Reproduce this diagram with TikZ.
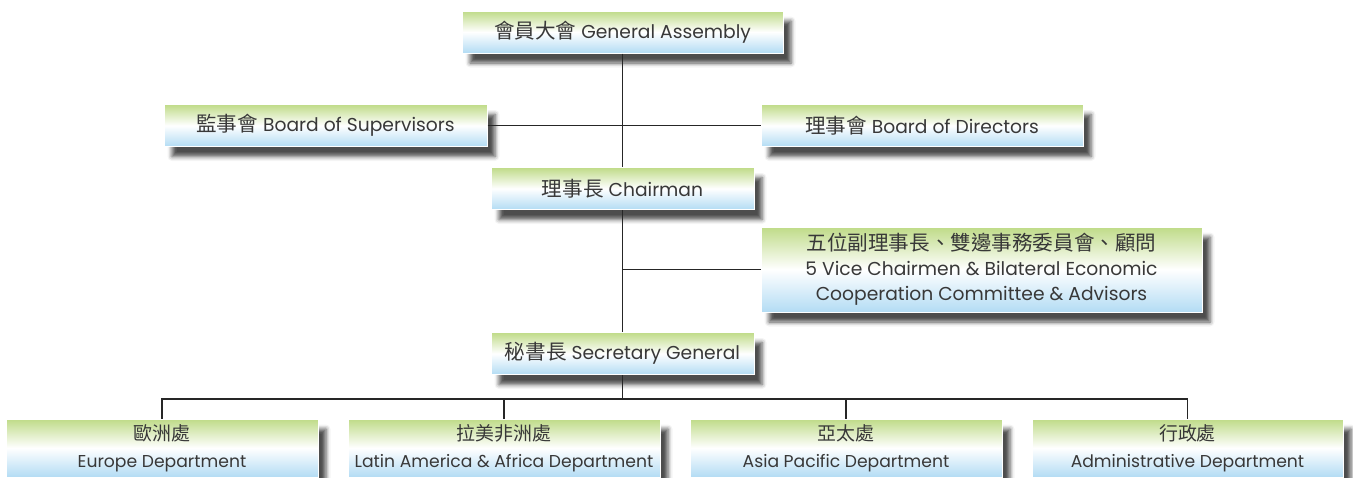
\documentclass[tikz,border=0pt]{standalone}
\usepackage{fontspec}
\setmainfont{Poppins}
\newfontfamily\cjk{Noto Sans CJK TC}[Scale=1.1]
\usetikzlibrary{shadows.blur}
\definecolor{boxgreen}{HTML}{BFDB88}
\definecolor{boxblue}{HTML}{B3DCF4}
\definecolor{inkgray}{HTML}{383838}
\newcommand{\topsize}{\fontsize{18.7}{25}\selectfont}
\newcommand{\depsize}{\fontsize{17.2}{27}\selectfont}
\newcommand{\boxh}{42}
\tikzset{
    orgbox/.style = {draw=white, line width=1pt, top color=boxgreen,
        bottom color=boxblue, middle color=white, text=inkgray,
        inner sep=0pt, align=center, font=\topsize,
        blur shadow={shadow xshift=8pt, shadow yshift=-10pt,
            shadow blur radius=4.5pt, shadow opacity=70}},
    depbox/.style = {orgbox, font=\depsize, minimum width=312, minimum height=58},
    orgline/.style = {draw=black!85, line width=1.1pt}
}

\begin{document}
\begin{tikzpicture}[x=1pt, y=-1pt]
        \useasboundingbox (0,0) rectangle (1353,477);
        % top levels
        \node[orgbox, minimum width=321, minimum height=\boxh] (ga) at (622.5,32) {{\cjk 會員大會} General Assembly};
        \node[orgbox, minimum width=323, minimum height=\boxh] (sup) at (325.5,125.5) {{\cjk 監事會} Board of Supervisors};
        \node[orgbox, minimum width=322, minimum height=\boxh] (dir) at (922,125.5) {{\cjk 理事會} Board of Directors};
        \node[orgbox, minimum width=263, minimum height=\boxh] (ch) at (622.5,188.5) {{\cjk 理事長} Chairman};
        \node[orgbox, minimum width=441, minimum height=85] (vc) at (981.5,269.5)
            {{\cjk 五位副理事長、雙邊事務委員會、顧問}\\5 Vice Chairmen \& Bilateral Economic\\Cooperation Committee \& Advisors};
        \node[orgbox, minimum width=263, minimum height=\boxh] (sg) at (622.5,353.5) {{\cjk 秘書長} Secretary General};
        
        % departments
        \node[depbox] (eu) at (162,448) {{\cjk 歐洲處}\\Europe Department};
        \node[depbox] (la) at (504,448) {{\cjk 拉美非洲處}\\Latin America \& Africa Department};
        \node[depbox] (ap) at (846,448) {{\cjk 亞太處}\\Asia Pacific Department};
        \node[depbox, minimum width=311] (ad) at (1187.5,448) {{\cjk 行政處}\\Administrative Department};
        
        \coordinate (bus) at (622.5,399);
        
        \draw[orgline] (ga) -- (ch);
        \draw[orgline] (ch) -- (sg);
        \draw[orgline] (sup) -- (dir);
        \draw[orgline] (vc.west) -- (vc.west -| ch.south);
        \draw[orgline] (sg) -- (bus);
        \draw[orgline] (eu.north) |- (bus) -| (ad.north);
        \draw[orgline] (la.north) -- (la.north |- bus);
        \draw[orgline] (ap.north) -- (ap.north |- bus);
        
\end{tikzpicture}
\end{document}
